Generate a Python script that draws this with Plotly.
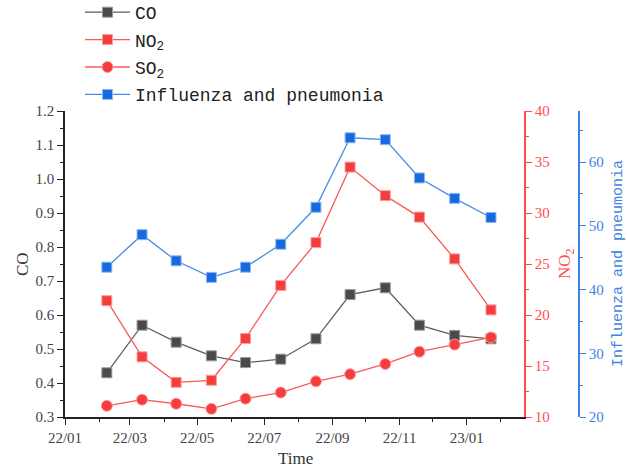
import plotly.graph_objects as go

# ---- data ----
dates = ["2022-02-08", "2022-03-12", "2022-04-12", "2022-05-14", "2022-06-14", "2022-07-16",
         "2022-08-17", "2022-09-17", "2022-10-19", "2022-11-19", "2022-12-21", "2023-01-23"]
co = [0.43, 0.57, 0.52, 0.48, 0.46, 0.47, 0.53, 0.66, 0.68, 0.57, 0.54, 0.53]
no2 = [21.4, 15.9, 13.4, 13.6, 17.7, 22.9, 27.1, 34.5, 31.7, 29.6, 25.5, 20.5]
so2 = [11.1, 11.7, 11.3, 10.8, 11.8, 12.4, 13.5, 14.2, 15.2, 16.4, 17.1, 17.8]
flu = [43.5, 48.6, 44.5, 41.9, 43.5, 47.1, 52.9, 63.8, 63.5, 57.5, 54.3, 51.3]
names = ["CO", "NO<sub>2</sub>", "SO<sub>2</sub>", "Influenza and pneumonia"]

GRAY_M, GRAY_L = "#4a4a4a", "#5e5e5e"
RED_M, RED_L = "#f53d3d", "#f85a5a"
BLUE_M, BLUE_L = "#1769e0", "#4a8ce6"
RED_AX, BLUE_AX = "#ff4d4d", "#3f84e5"

SERIF = "Liberation Serif"
MONO = "Liberation Mono"

fig = go.Figure()
fig.add_trace(go.Scatter(x=dates, y=co, name=names[0], yaxis="y", mode="lines+markers",
                         legendgroup="a",
                         line=dict(color=GRAY_L, width=1.3),
                         marker=dict(symbol="square", size=10, color=GRAY_M,
                                     line=dict(color="#9a9a9a", width=1))))
fig.add_trace(go.Scatter(x=dates, y=no2, name=names[1], yaxis="y2", mode="lines+markers",
                         legendgroup="b",
                         line=dict(color=RED_L, width=1.3),
                         marker=dict(symbol="square", size=10, color=RED_M,
                                     line=dict(color="#ff9a9a", width=1))))
fig.add_trace(go.Scatter(x=dates, y=so2, name=names[2], yaxis="y2", mode="lines+markers",
                         legendgroup="c",
                         line=dict(color=RED_L, width=1.3),
                         marker=dict(symbol="circle", size=11, color=RED_M,
                                     line=dict(color="#ff9a9a", width=1))))
fig.add_trace(go.Scatter(x=dates, y=flu, name=names[3], yaxis="y3", mode="lines+markers",
                         legendgroup="d",
                         line=dict(color=BLUE_L, width=1.3),
                         marker=dict(symbol="square", size=10, color=BLUE_M,
                                     line=dict(color="#8ab8f0", width=1))))

W, H = 627, 468
L, R, T, B = 65, 30, 111, 51
pw = W - L - R
ph = H - T - B
xend = (524 - L) / pw

tickfont = dict(family=SERIF, size=15, color="#444444")

fig.update_layout(
    width=W, height=H,
    margin=dict(l=L, r=R, t=T, b=B, autoexpand=False),
    paper_bgcolor="white", plot_bgcolor="white",
    showlegend=True,
    legend=dict(x=(80 - L) / pw, y=1 + (T + 6) / ph, xanchor="left", yanchor="top",
                font=dict(family=MONO, size=18, color="#222222"),
                bgcolor="rgba(0,0,0,0)", borderwidth=0,
                itemwidth=45, tracegroupgap=1, traceorder="grouped"),
    xaxis=dict(domain=[0, xend], type="date",
               range=["2022-01-01", "2023-02-22"],
               tick0="2022-01-01", dtick="M2", tickformat="%y/%m",
               showline=True, linecolor="#222222", linewidth=1.5,
               ticks="outside", ticklen=6, tickwidth=1.3, tickcolor="#222222",
               minor=dict(dtick="M1", ticks="outside", ticklen=3, tickwidth=1.2, tickcolor="#222222"),
               showgrid=False, zeroline=False, tickfont=tickfont),
    yaxis=dict(range=[0.3, 1.2], dtick=0.1, tick0=0.3, tickformat=".1f",
               showline=True, linecolor="#222222", linewidth=1.5,
               ticks="outside", ticklen=6, tickwidth=1.3, tickcolor="#222222",
               minor=dict(dtick=0.05, ticks="outside", ticklen=3, tickwidth=1.2, tickcolor="#222222"),
               showgrid=False, zeroline=False, tickfont=tickfont),
    yaxis2=dict(range=[10, 40], dtick=5, tick0=10, overlaying="y", side="right", anchor="x",
                showline=True, linecolor=RED_AX, linewidth=1.5,
                ticks="outside", ticklen=6, tickwidth=1.3, tickcolor=RED_AX,
                minor=dict(dtick=2.5, ticks="outside", ticklen=3, tickwidth=1.2, tickcolor=RED_AX),
                showgrid=False, zeroline=False,
                tickfont=dict(family=SERIF, size=15, color=RED_AX)),
    yaxis3=dict(range=[20, 68], dtick=10, tick0=20, overlaying="y", side="right", anchor="free",
                position=(579 - L) / pw,
                showline=True, linecolor=BLUE_AX, linewidth=1.5,
                ticks="outside", ticklen=6, tickwidth=1.3, tickcolor=BLUE_AX,
                minor=dict(dtick=5, ticks="outside", ticklen=3, tickwidth=1.2, tickcolor=BLUE_AX),
                showgrid=False, zeroline=False,
                tickfont=dict(family=SERIF, size=15, color=BLUE_AX)),
)

ann = [
    dict(text="CO", x=(22 - L) / pw, y=0.5, textangle=-90,
         font=dict(family=SERIF, size=17, color="#333333")),
    dict(text="NO<sub>2</sub>", x=(566 - L) / pw, y=0.5, textangle=-90,
         font=dict(family=SERIF, size=17, color=RED_AX)),
    dict(text="Influenza and pneumonia", x=(618 - L) / pw, y=0.5, textangle=-90,
         font=dict(family=MONO, size=15, color=BLUE_AX)),
    dict(text="Time", x=(295 - L) / pw, y=(417 - 458) / ph, textangle=0,
         font=dict(family=SERIF, size=17, color="#333333")),
]
for a in ann:
    fig.add_annotation(xref="paper", yref="paper", showarrow=False,
                       xanchor="center", yanchor="middle", **a)

fig.write_html("out.html", config={"displayModeBar": False},
               post_script="document.body.style.margin='0';")
